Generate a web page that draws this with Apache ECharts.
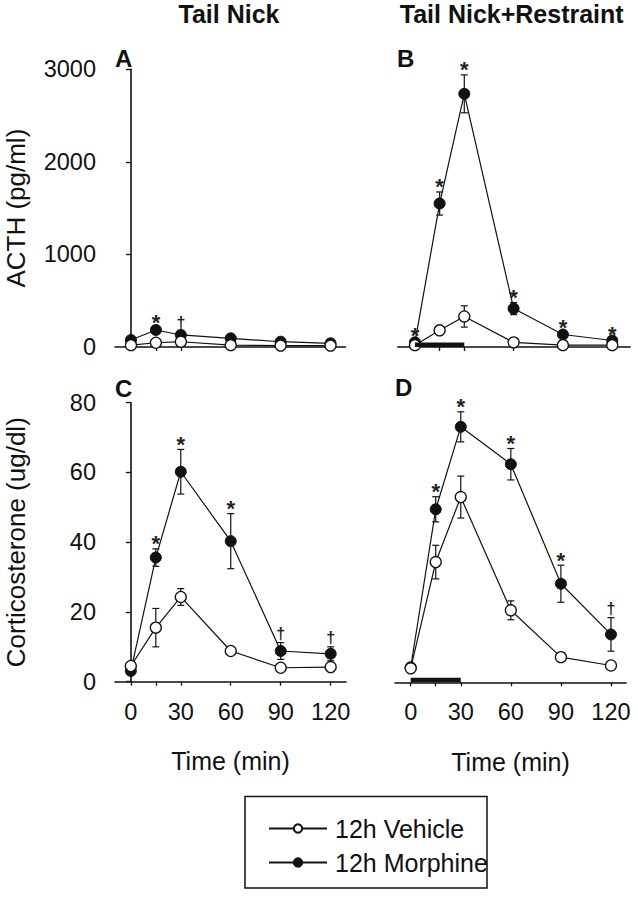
<!DOCTYPE html>
<html><head><meta charset="utf-8">
<script src="https://cdn.jsdelivr.net/npm/echarts@6/dist/echarts.min.js"></script>
<style>html,body{margin:0;padding:0;background:#fff}#c{width:638px;height:900px}</style>
</head><body><div id="c"></div>
<script>
// ---- data ----
const times = [0, 15, 30, 60, 90, 120];
const tickTimes = [0, 15, 30, 60, 90, 120];
const labelTimes = [0, 30, 60, 90, 120];
const restraint = [0, 30];

// Panel A: ACTH, Tail Nick
const acthVehTN = [20, 46, 57, 20, 15, 15];
const acthVehTNErr = [8, 12, 15, 5, 5, 5];
const acthMorTN = [75, 184, 130, 94, 57, 40];
const acthMorTNErr = [20, 30, 35, 15, 10, 10];
const acthMarksTN = ['', '*', '†', '', '', ''];

// Panel B: ACTH, Tail Nick + Restraint
const acthVehTR = [20, 180, 330, 50, 20, 20];
const acthVehTRErr = [8, 20, 115, 10, 5, 5];
const acthMorTR = [50, 1550, 2735, 415, 135, 70];
const acthMorTRErr = [15, 125, 205, 65, 25, 15];
const acthMarksTR = ['*', '*', '*', '*', '*', '*'];

// Panel C: Corticosterone, Tail Nick
const cortVehTN = [4.5, 15.5, 24.3, 8.8, 4.0, 4.2];
const cortVehTNErr = [0.8, 5.5, 2.4, 0.8, 0.5, 0.5];
const cortMorTN = [3.1, 35.6, 60.2, 40.3, 8.8, 8.0];
const cortMorTNErr = [0.5, 2.5, 6.4, 7.9, 2.4, 2.0];
const cortMarksTN = ['', '*', '*', '*', '†', '†'];

// Panel D: Corticosterone, Tail Nick + Restraint
const cortVehTR = [4.0, 34.4, 53.0, 20.6, 7.2, 4.8];
const cortVehTRErr = [0.5, 4.8, 6.0, 2.7, 0.8, 0.8];
const cortMorTR = [4.3, 49.5, 73.1, 62.4, 28.2, 13.7];
const cortMorTRErr = [0.5, 3.6, 4.3, 4.5, 5.3, 4.8];
const cortMarksTR = ['', '*', '*', '*', '*', '†'];

const panelLetters = ['A', 'B', 'C', 'D'];
const columnTitles = ['Tail Nick', 'Tail Nick+Restraint'];
const yNames = ['ACTH (pg/ml)', 'Corticosterone (ug/dl)'];
const xName = 'Time (min)';
const seriesNames = ['12h Vehicle', '12h Morphine'];

// ---- chart ----
const FF = '"Liberation Sans", Arial, sans-serif';
const INK = '#111';
const chart = echarts.init(document.getElementById('c'), null, {renderer: 'svg'});

const grids = [
  {left: 115, top: 69.3, width: 230.5, height: 277.7},
  {left: 397.7, top: 69.3, width: 232.3, height: 277.7},
  {left: 115, top: 402.7, width: 231, height: 279},
  {left: 395, top: 402.7, width: 231, height: 279.6}
];
const xr = [[-9.6, 129], [-10.5, 130.8], [-9.5, 129.2], [-9.4, 129]];

const xAxes = grids.map((g, i) => ({
  type: 'value', gridIndex: i, min: xr[i][0], max: xr[i][1],
  splitLine: {show: false},
  axisLine: {show: true, onZero: false, lineStyle: {color: INK, width: 1.6}},
  axisTick: {show: true, customValues: tickTimes, length: 4, inside: false, lineStyle: {color: INK, width: 1.3}},
  axisLabel: {show: i >= 2, customValues: labelTimes, margin: 18, fontSize: 23.5, color: INK, fontFamily: FF,
    formatter: v => String(v)},
  name: i >= 2 ? xName : '', nameLocation: 'middle', nameGap: 67,
  nameTextStyle: {fontSize: 25, color: INK, fontFamily: FF}
}));
const yAxes = grids.map((g, i) => {
  const top = i < 2;
  return {
    type: 'value', gridIndex: i, min: 0, max: top ? 3000 : 80, interval: top ? 1000 : 20,
    show: i % 2 === 0,
    splitLine: {show: false},
    axisLine: {show: true, lineStyle: {color: INK, width: 1.6}},
    axisTick: {show: true, length: 5, lineStyle: {color: INK, width: 1.3}},
    axisLabel: {margin: 19, fontSize: 23.5, color: INK, fontFamily: FF, formatter: v => String(v)},
    name: i % 2 === 0 ? yNames[top ? 0 : 1] : '',
    nameLocation: 'middle', nameGap: 86, nameRotate: 90,
    nameTextStyle: {fontSize: 26, color: INK, fontFamily: FF}
  };
});

function errRender(params, api) {
  const x = api.value(0), lo = api.value(1), hi = api.value(2);
  const p1 = api.coord([x, lo]), p2 = api.coord([x, hi]);
  const w = 3.5;
  const st = {stroke: INK, lineWidth: 1.2};
  return {type: 'group', children: [
    {type: 'line', shape: {x1: p1[0], y1: p1[1], x2: p2[0], y2: p2[1]}, style: st},
    {type: 'line', shape: {x1: p1[0] - w, y1: p1[1], x2: p1[0] + w, y2: p1[1]}, style: st},
    {type: 'line', shape: {x1: p2[0] - w, y1: p2[1], x2: p2[0] + w, y2: p2[1]}, style: st}
  ]};
}
function markRender(params, api) {
  const x = api.value(0), y = api.value(1);
  const txt = markData[params.seriesName][params.dataIndex][2];
  const p = api.coord([x, y]);
  const dag = txt === '†';
  return {type: 'text', x: p[0], y: p[1] - (dag ? 9 : 5),
    style: {text: txt, fontSize: dag ? 16 : 22, fontWeight: 'bold', fontFamily: FF, fill: '#222',
      align: 'center', verticalAlign: 'middle'}};
}
function barRender(params, api) {
  const p0 = api.coord([api.value(0), 0]), p1 = api.coord([api.value(1), 0]);
  return {type: 'rect', shape: {x: p0[0], y: p0[1] - 4.5, width: p1[0] - p0[0], height: 4.5},
    style: {fill: INK}};
}

const panels = [
  [acthVehTN, acthVehTNErr, acthMorTN, acthMorTNErr, acthMarksTN],
  [acthVehTR, acthVehTRErr, acthMorTR, acthMorTRErr, acthMarksTR],
  [cortVehTN, cortVehTNErr, cortMorTN, cortMorTNErr, cortMarksTN],
  [cortVehTR, cortVehTRErr, cortMorTR, cortMorTRErr, cortMarksTR]
];
const markData = {};
const series = [];
panels.forEach((p, i) => {
  const [v, ve, m, me, marks] = p;
  const errData = times.map((t, k) => [t, v[k] - ve[k], v[k] + ve[k]])
    .concat(times.map((t, k) => [t, m[k] - me[k], m[k] + me[k]]));
  series.push({type: 'custom', name: 'err' + i, xAxisIndex: i, yAxisIndex: i, z: 1,
    itemStyle: {color: INK}, renderItem: errRender, data: errData, silent: true});
  if (i % 2 === 1) {
    series.push({type: 'custom', name: 'bar' + i, xAxisIndex: i, yAxisIndex: i, z: 5,
      itemStyle: {color: INK}, renderItem: barRender, data: [restraint], silent: true});
  }
  series.push({type: 'line', name: seriesNames[1], xAxisIndex: i, yAxisIndex: i, z: 2,
    data: times.map((t, k) => [t, m[k]]), symbol: 'circle', symbolSize: 11,
    itemStyle: {color: INK, borderColor: INK, borderWidth: 1},
    lineStyle: {color: INK, width: 1.2}, silent: true});
  series.push({type: 'line', name: seriesNames[0], xAxisIndex: i, yAxisIndex: i, z: 3,
    data: times.map((t, k) => [t, v[k]]), symbol: 'circle', symbolSize: 11,
    itemStyle: {color: '#fff', borderColor: INK, borderWidth: 1.3},
    lineStyle: {color: INK, width: 1.2}, silent: true});
  const md = times.map((t, k) => [t, m[k] + me[k], marks[k]]).filter(d => d[2] !== '');
  markData['mark' + i] = md;
  series.push({type: 'custom', name: 'mark' + i, xAxisIndex: i, yAxisIndex: i, z: 4,
    itemStyle: {color: INK}, renderItem: markRender, data: md.map(d => [d[0], d[1]]), silent: true});
});

const txt = (s, x, y, size, bold, align) => ({type: 'text', x, y,
  style: {text: s, fontSize: size, fontWeight: bold ? 'bold' : 'normal', fontFamily: FF, fill: INK,
    align: align || 'left', verticalAlign: 'middle'}});

chart.setOption({
  animation: false,
  backgroundColor: '#fff',
  grid: grids.map(g => Object.assign({outerBoundsMode: 'none', containLabel: false}, g)),
  xAxis: xAxes,
  yAxis: yAxes,
  legend: {
    data: seriesNames, orient: 'vertical', left: 263, top: 811, itemWidth: 58, itemHeight: 10.5,
    itemGap: 9, selectedMode: false,
    textStyle: {fontSize: 25, color: INK, fontFamily: FF, padding: [0, 0, 0, 3]}
  },
  graphic: [
    txt(columnTitles[0], 229, 14, 25, true, 'center'),
    txt(columnTitles[1], 511.7, 14, 25, true, 'center'),
    txt(panelLetters[0], 115, 58, 24, true),
    txt(panelLetters[1], 397, 58, 24, true),
    txt(panelLetters[2], 115, 388, 24, true),
    txt(panelLetters[3], 395, 387, 24, true),
    {type: 'rect', shape: {x: 245, y: 796.5, width: 242, height: 91.5},
      style: {fill: 'none', stroke: INK, lineWidth: 1.5}}
  ],
  series
});
</script></body></html>
